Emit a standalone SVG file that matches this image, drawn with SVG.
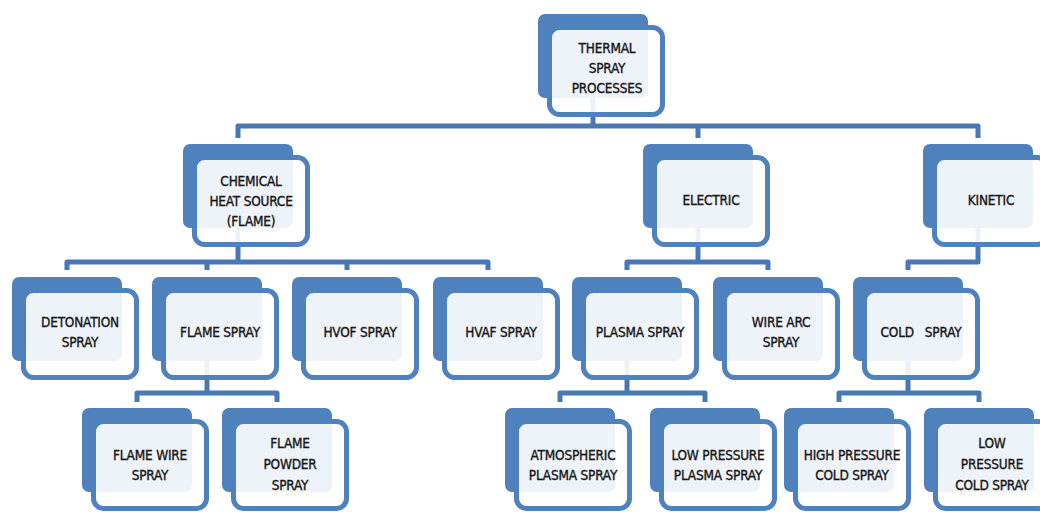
<svg xmlns="http://www.w3.org/2000/svg" width="1040" height="512" viewBox="0 0 1040 512">
  <style>
    .back { fill: #4f81bd; }
    .front { fill: #ffffff; fill-opacity: 0.9; stroke: #4f81bd; stroke-width: 5; }
    .lbl { font-family: "DejaVu Sans Condensed", "DejaVu Sans", "Liberation Sans", sans-serif; font-stretch: condensed; font-size: 13.5px; fill: #161616; stroke: #161616; stroke-width: 0.35; letter-spacing: -0.2px; text-anchor: middle; }
    .wire { fill: none; stroke: #4878b6; stroke-width: 5; stroke-linejoin: round; }
  </style>
  <defs>
    <!-- a node: solid back card with an outlined, slightly translucent card over it -->
    <g id="card">
      <rect class="back" x="0" y="0" width="110" height="84" rx="7"/>
      <rect class="front" x="11.5" y="13.5" width="113" height="87" rx="10"/>
    </g>
  </defs>

  <!-- connectors, drawn first so the cards sit over them -->
  <g id="connectors">
    <path class="wire" d="M593,98 V126"/>
    <path class="wire" d="M238,138 V126 H978 V138 M698,126 V138"/>
    <path class="wire" d="M238,228 V262"/>
    <path class="wire" d="M67,270 V262 H488 V270 M207,262 V270 M347,262 V270"/>
    <path class="wire" d="M698,228 V262"/>
    <path class="wire" d="M627,270 V262 H768 V270"/>
    <path class="wire" d="M978,228 V262 H908 V270"/>
    <path class="wire" d="M207,361 V393"/>
    <path class="wire" d="M137,402 V393 H277 V402"/>
    <path class="wire" d="M627,361 V393"/>
    <path class="wire" d="M560,402 V393 H705 V402"/>
    <path class="wire" d="M908,361 V393"/>
    <path class="wire" d="M839,402 V393 H979 V402"/>
  </g>

  <g id="thermal-spray-processes">
    <use href="#card" x="538" y="14"/>
    <text class="lbl"><tspan x="607" y="53">THERMAL</tspan><tspan x="607" y="73">SPRAY</tspan><tspan x="607" y="93">PROCESSES</tspan></text>
  </g>

  <g id="chemical-heat-source">
    <use href="#card" x="183" y="144"/>
    <text class="lbl"><tspan x="251" y="186">CHEMICAL</tspan><tspan x="251" y="206">HEAT SOURCE</tspan><tspan x="251" y="226">(FLAME)</tspan></text>
  </g>

  <g id="electric">
    <use href="#card" x="643" y="144"/>
    <text class="lbl" x="711" y="205">ELECTRIC</text>
  </g>

  <g id="kinetic">
    <use href="#card" x="923" y="144"/>
    <text class="lbl" x="991" y="205">KINETIC</text>
  </g>

  <g id="detonation-spray">
    <use href="#card" x="12" y="277"/>
    <text class="lbl"><tspan x="80" y="327">DETONATION</tspan><tspan x="80" y="347">SPRAY</tspan></text>
  </g>

  <g id="flame-spray">
    <use href="#card" x="152" y="277"/>
    <text class="lbl" x="220" y="337">FLAME SPRAY</text>
  </g>

  <g id="hvof-spray">
    <use href="#card" x="292" y="277"/>
    <text class="lbl" x="360" y="337">HVOF SPRAY</text>
  </g>

  <g id="hvaf-spray">
    <use href="#card" x="433" y="277"/>
    <text class="lbl" x="501" y="337">HVAF SPRAY</text>
  </g>

  <g id="plasma-spray">
    <use href="#card" x="572" y="277"/>
    <text class="lbl" x="640" y="337">PLASMA SPRAY</text>
  </g>

  <g id="wire-arc-spray">
    <use href="#card" x="713" y="277"/>
    <text class="lbl"><tspan x="781" y="327">WIRE ARC</tspan><tspan x="781" y="347">SPRAY</tspan></text>
  </g>

  <g id="cold-spray">
    <use href="#card" x="853" y="277"/>
    <text class="lbl" x="921" y="337" xml:space="preserve">COLD   SPRAY</text>
  </g>

  <g id="flame-wire-spray">
    <use href="#card" x="82" y="408"/>
    <text class="lbl"><tspan x="150" y="460">FLAME WIRE</tspan><tspan x="150" y="480">SPRAY</tspan></text>
  </g>

  <g id="flame-powder-spray">
    <use href="#card" x="222" y="408"/>
    <text class="lbl"><tspan x="290" y="448">FLAME</tspan><tspan x="290" y="469">POWDER</tspan><tspan x="290" y="490">SPRAY</tspan></text>
  </g>

  <g id="atmospheric-plasma-spray">
    <use href="#card" x="505" y="408"/>
    <text class="lbl"><tspan x="573" y="460">ATMOSPHERIC</tspan><tspan x="573" y="480">PLASMA SPRAY</tspan></text>
  </g>

  <g id="low-pressure-plasma-spray">
    <use href="#card" x="650" y="408"/>
    <text class="lbl"><tspan x="718" y="460">LOW PRESSURE</tspan><tspan x="718" y="480">PLASMA SPRAY</tspan></text>
  </g>

  <g id="high-pressure-cold-spray">
    <use href="#card" x="784" y="408"/>
    <text class="lbl"><tspan x="852" y="460">HIGH PRESSURE</tspan><tspan x="852" y="480">COLD SPRAY</tspan></text>
  </g>

  <g id="low-pressure-cold-spray">
    <use href="#card" x="924" y="408"/>
    <text class="lbl"><tspan x="992" y="448">LOW</tspan><tspan x="992" y="469">PRESSURE</tspan><tspan x="992" y="490">COLD SPRAY</tspan></text>
  </g>
</svg>
